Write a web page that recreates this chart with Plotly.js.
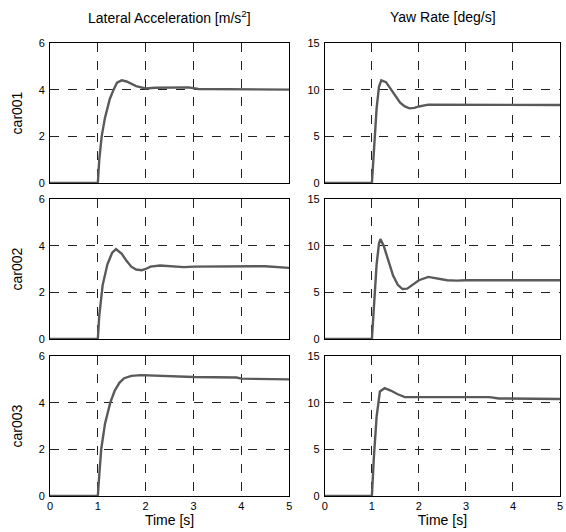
<!DOCTYPE html>
<html><head><meta charset="utf-8">
<script src="https://cdn.plot.ly/plotly-3.0.1.min.js"></script>
<style>html,body{margin:0;padding:0;background:#fff}#g{width:566px;height:532px}</style>
</head><body><div id="g"></div>
<script>
const carNames = ['car001','car002','car003'];
const colTitles = ['Lateral Acceleration [m/s<sup>2</sup>]','Yaw Rate [deg/s]'];
const xTitle = 'Time [s]';

const tLat1 = [0, 1.0, 1.03, 1.08, 1.15, 1.25, 1.33, 1.4, 1.5, 1.6, 1.8, 2.0, 2.2, 2.5, 2.9, 3.1, 4.0, 5.0];
const lat1  = [0, 0,   1.0,  2.0,  2.8,  3.6,  4.0,  4.3, 4.4, 4.35,4.15,4.05,4.08,4.1, 4.1, 4.03,4.03,4.0];

const tYaw1 = [0, 1.0, 1.05, 1.1, 1.15, 1.2, 1.3, 1.4, 1.5, 1.6, 1.7, 1.8, 1.9, 2.0, 2.2, 3.0, 4.0, 5.0];
const yaw1  = [0, 0,   4.0,  8.0, 10.3, 11.0,10.8,10.1,9.3, 8.6, 8.2, 8.0, 8.05,8.2, 8.4, 8.4, 8.35,8.35];

const tLat2 = [0, 1.0, 1.03, 1.1, 1.2, 1.3, 1.38, 1.5, 1.6, 1.7, 1.8, 1.92, 2.0, 2.1, 2.3, 2.5, 2.8, 3.0, 4.5, 5.0];
const lat2  = [0, 0,   1.0,  2.3, 3.2, 3.7, 3.85, 3.65,3.35,3.1, 2.98,2.95, 3.0, 3.1, 3.15,3.12,3.08,3.1, 3.12,3.05];

const tYaw2 = [0, 1.0, 1.05, 1.1, 1.15, 1.18, 1.25, 1.35, 1.45, 1.55, 1.65, 1.75, 1.85, 2.0, 2.2, 2.4, 2.6, 2.8, 3.0, 5.0];
const yaw2  = [0, 0,   4.0,  8.0, 10.2, 10.7, 10.0, 8.3,  6.8,  5.8,  5.35, 5.4,  5.8,  6.3, 6.65,6.5, 6.3, 6.25,6.3, 6.3];

const tLat3 = [0, 1.0, 1.03, 1.07, 1.15, 1.26, 1.35, 1.45, 1.55, 1.7, 1.9, 2.3, 2.7, 3.0, 3.9, 4.0, 5.0];
const lat3  = [0, 0,   0.9,  2.0,  3.1,  4.0,  4.5,  4.85, 5.05, 5.15,5.18,5.15,5.13,5.1, 5.08,5.03,5.0];

const tYaw3 = [0, 1.0, 1.04, 1.1, 1.17, 1.27, 1.4, 1.55, 1.7, 2.0, 3.5, 3.7, 5.0];
const yaw3  = [0, 0,   4.0,  8.5, 11.2, 11.55,11.3,10.9, 10.6,10.6,10.6,10.45,10.4];

const series = [
  [tLat1, lat1, tYaw1, yaw1],
  [tLat2, lat2, tYaw2, yaw2],
  [tLat3, lat3, tYaw3, yaw3]
];
const yRanges = [[0,6],[0,15]];
const yTicks = [[0,2,4,6],[0,5,10,15]];
const xTicks = [0,1,2,3,4,5];

const FF = 'Liberation Sans, Arial, sans-serif';
const font = {family:FF, size:11, color:'#000'};
const xDomains = [[0, 0.469],[0.539, 1]];
const yDomains = [[0.691, 1],[0.3466, 0.6556],[0, 0.309]];

const data = [];
const layout = {
  width:566, height:532,
  margin:{l:50, r:6, t:43, b:36},
  paper_bgcolor:'#fff', plot_bgcolor:'#fff',
  showlegend:false, font:font,
  annotations:[]
};
let idx = 0;
for (let r=0;r<3;r++){
  for (let c=0;c<2;c++){
    idx++;
    const sfx = idx===1?'':String(idx);
    data.push({
      x: series[r][c*2], y: series[r][c*2+1],
      xaxis:'x'+sfx, yaxis:'y'+sfx,
      type:'scatter', mode:'lines',
      line:{color:'#5a5a5a', width:2.4}
    });
    const common = {
      showline:true, mirror:true, linecolor:'#000', linewidth:1,
      showgrid:true, gridcolor:'#222', griddash:'dash', gridwidth:1,
      zeroline:false, ticks:'', fixedrange:true,
      tickfont:{family:FF, size:11, color:'#000'}
    };
    layout['xaxis'+sfx] = Object.assign({}, common, {
      domain:xDomains[c], anchor:'y'+sfx, range:[0,5],
      tickvals:xTicks, showticklabels:(r===2)
    });
    const ya = Object.assign({}, common, {
      domain:yDomains[r], anchor:'x'+sfx, range:yRanges[c],
      tickvals:yTicks[c], ticklabelstandoff:2
    });
    if (c===0){
      ya.title = {text:carNames[r], font:{family:FF, size:14, color:'#000'}, standoff:12};
    }
    layout['yaxis'+sfx] = ya;
    if (r===2){
      layout['xaxis'+sfx].title = {text:xTitle, font:{family:FF, size:14, color:'#000'}, standoff:3};
    }
  }
}
layout.annotations.push({
  text:colTitles[0], xref:'paper', yref:'paper', x:0.2345, y:1, yshift:26,
  xanchor:'center', yanchor:'middle', showarrow:false,
  font:{family:FF, size:14, color:'#000'}
});
layout.annotations.push({
  text:colTitles[1], xref:'paper', yref:'paper', x:0.77, y:1, yshift:26,
  xanchor:'center', yanchor:'middle', showarrow:false,
  font:{family:FF, size:14, color:'#000'}
});
Plotly.newPlot('g', data, layout, {staticPlot:true});
</script></body></html>
